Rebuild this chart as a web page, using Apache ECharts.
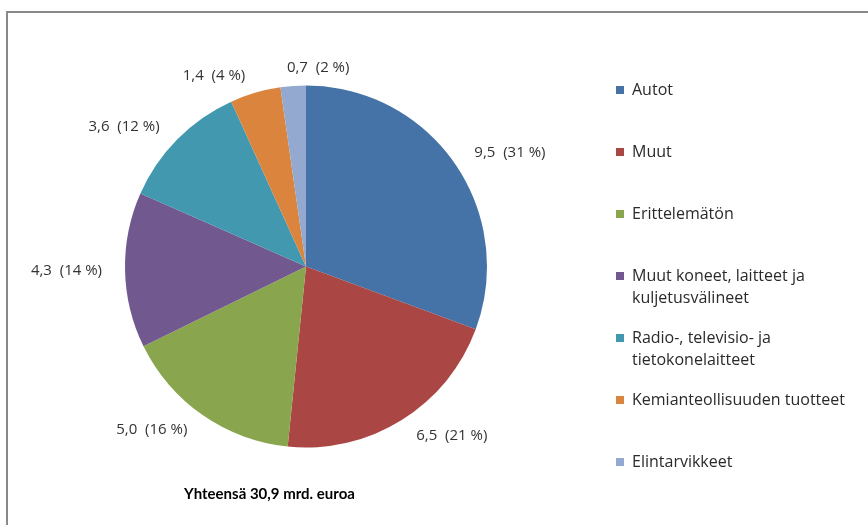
<!DOCTYPE html>
<html>
<head>
<meta charset="utf-8">
<script src="https://cdn.jsdelivr.net/npm/echarts@6/dist/echarts.min.js"></script>
<style>
  html, body { margin: 0; padding: 0; background: #fff; }
  #chart { width: 868px; height: 525px; }
</style>
</head>
<body>
<div id="chart"></div>
<script>
// tuonnin jakauma, mrd. euroa
const categories = [
  'Autot',
  'Muut',
  'Erittelemätön',
  'Muut koneet, laitteet ja\nkuljetusvälineet',
  'Radio-, televisio- ja\ntietokonelaitteet',
  'Kemianteollisuuden tuotteet',
  'Elintarvikkeet'
]
const values = [9.5, 6.5, 5.0, 4.3, 3.6, 1.4, 0.7]
const percents = [31, 21, 16, 14, 12, 4, 2]
const colors = ['#4572A7', '#AA4643', '#89A54E', '#71588F', '#4198AF', '#DB843D', '#93A9CF']
const totalText = 'Yhteensä 30,9 mrd. euroa'

const fi = v => v.toFixed(1).replace('.', ',')

const chart = echarts.init(document.getElementById('chart'))

chart.setOption({
  animation: false,
  color: colors,
  textStyle: { fontFamily: 'Open Sans' },
  title: {
    text: totalText,
    left: 179,
    top: 482,
    textStyle: { fontSize: 15, fontWeight: 'bold', color: '#000', fontFamily: 'Lato' }
  },
  legend: {
    orient: 'vertical',
    left: 616,
    top: 60,
    padding: 0,
    itemGap: 2,
    icon: 'rect',
    itemWidth: 8,
    itemHeight: 8,
    data: categories,
    formatter: name => {
      // kolme riviä jokaiselle, jotta neliö osuu ensimmäiselle tekstiriville
      const rows = name.split('\n').map(l => '{t|' + l + '}')
      if (rows.length < 2) rows.push('{s| }')
      return '{s| }\n' + rows.join('\n')
    },
    textStyle: {
      fontSize: 16,
      color: '#2a2a2a',
      rich: {
        t: { fontSize: 16, lineHeight: 22, color: '#2a2a2a', fontFamily: 'Open Sans', padding: [0, 0, 0, 3] },
        s: { fontSize: 16, lineHeight: 22 }
      }
    }
  },
  graphic: [{
    type: 'rect',
    shape: { x: 7, y: 12, width: 900, height: 600 },
    style: { fill: 'none', stroke: '#898989', lineWidth: 2 },
    silent: true
  }],
  series: [{
    type: 'pie',
    center: [306, 266.5],
    radius: [0, 181],
    startAngle: 90,
    clockwise: true,
    avoidLabelOverlap: false,
    label: {
      position: 'outside',
      fontSize: 15,
      color: '#333',
      fontFamily: 'Open Sans',
      formatter: p => fi(values[p.dataIndex]) + '  (' + percents[p.dataIndex] + ' %)'
    },
    labelLine: { show: false, length: 18, length2: 0 },
    labelLayout: p => {
      if (p.dataIndex === values.length - 1) return { align: 'left' }
    },
    emphasis: { disabled: true },
    data: categories.map((c, i) => ({ name: c, value: values[i] }))
  }]
})
</script>
</body>
</html>
